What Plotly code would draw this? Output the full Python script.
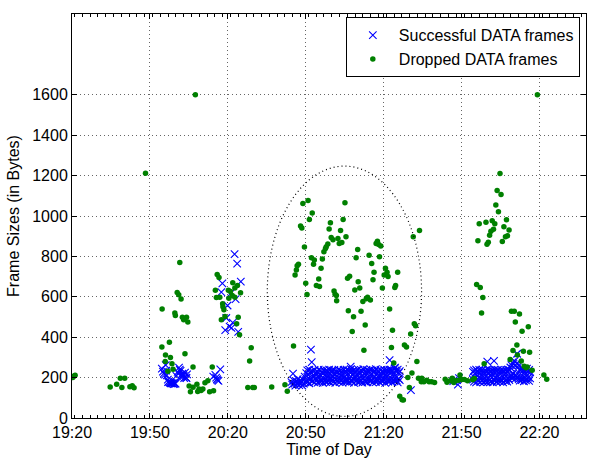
import plotly.graph_objects as go
from datetime import datetime, timedelta

# ---------------- data (minutes after 19:20, bytes) ----------------
# successful frames: early clusters
succ_min = [34.6, 35.0, 35.4, 35.8, 36.1, 36.5, 36.9, 37.2, 37.6, 37.9, 38.3, 38.7, 39.1, 39.5,
            39.9, 40.2, 40.7, 41.2, 41.5, 41.8, 42.0, 42.5, 42.8, 43.0, 43.5, 43.9, 44.3, 44.1,
            36.3, 37.0, 38.0, 39.3, 41.0, 42.2, 43.2,
            54.4, 55.2, 55.8, 56.4, 57.1, 55.5, 56.0,
            57.5, 57.9, 59.0, 59.4, 59.9, 60.7, 60.9, 61.4, 61.9, 62.6, 63.0, 63.6, 64.0, 65.0,
            84.5, 84.8, 85.1, 85.4, 85.7, 86.0, 86.3, 86.6, 86.9, 87.2, 87.5, 87.8, 88.1, 88.4,
            88.7, 89.0, 89.3, 89.6, 89.9, 92.0, 92.3, 107.3, 122.3, 124.4, 130.5,
            146.8, 148.3, 149.0, 148.6, 159.9, 171.4, 162.5]
succ_bytes = [244, 230, 221, 215, 262, 211, 190, 180, 176, 174, 172, 171, 168, 169,
              170, 208, 228, 249, 240, 233, 205, 220, 212, 208, 225, 200, 216, 197,
              235, 178, 172, 175, 222, 215, 198,
              205, 213, 192, 184, 241, 200, 188,
              623, 667, 435, 495, 557, 452, 615, 446, 472, 811, 588, 764, 426, 675,
              178, 165, 220, 185, 170, 160, 182, 168, 192, 175, 163, 186, 172, 180,
              160, 190, 170, 205, 176, 338, 277, 254, 287, 249, 138,
              183, 187, 197, 165, 279, 318, 283]

# successful frames: dense band inside the ellipse (two layers per time)
band_min = [90.2, 90.6, 91.0, 91.4, 91.8, 92.6, 93.0, 93.4, 93.8, 94.2, 94.6, 95.0, 95.4, 95.8,
            96.2, 96.6, 97.0, 97.4, 97.8, 98.2, 98.6, 99.0, 99.4, 99.8, 100.2, 100.6, 101.0,
            101.4, 101.8, 102.2, 102.6, 103.0, 103.4, 103.8, 104.2, 104.6, 105.0, 105.4, 105.8,
            106.2, 106.6, 107.0, 107.4, 107.8, 108.2, 108.6, 109.0, 109.4, 109.8, 110.2, 110.6,
            111.0, 111.4, 111.8, 112.2, 112.6, 113.0, 113.4, 113.8, 114.2, 114.6, 115.0, 115.4,
            115.8, 116.2, 116.6, 117.0, 117.4, 117.8, 118.2, 118.6, 119.0, 119.4, 119.8, 120.2,
            120.6, 121.0, 121.4, 121.8, 122.2, 122.6, 123.0, 123.4, 123.8, 124.2, 124.6, 125.0,
            125.4, 125.8, 126.2]
band_hi = [222, 236, 215, 240, 228, 232, 212, 238, 225, 218, 230, 240, 214, 235, 226, 220, 238,
           230, 216, 234, 228, 240, 218, 232, 236, 222, 238, 214, 230, 226, 240, 220, 235, 228,
           216, 238, 224, 232, 240, 218, 236, 226, 242, 230, 218, 238, 225, 234, 215, 240, 228,
           220, 236, 230, 242, 218, 226, 238, 222, 234, 230, 240, 218, 236, 226, 232, 242, 220,
           235, 228, 216, 238, 230, 224, 240, 232, 218, 236, 228, 240, 226, 238, 232, 220, 245,
           236, 228, 240, 224, 232]
band_lo = [185, 178, 196, 172, 190, 182, 200, 176, 194, 186, 175, 198, 180, 192, 184, 174, 196,
           188, 178, 200, 182, 194, 176, 198, 186, 180, 196, 174, 190, 184, 200, 178, 192, 186,
           175, 198, 182, 194, 180, 190, 176, 198, 186, 180, 194, 174, 200, 184, 190, 178, 196,
           182, 188, 175, 198, 186, 180, 194, 176, 190, 196, 182, 190, 176, 200, 186, 178, 194,
           184, 198, 176, 190, 182, 196, 186, 174, 200, 188, 180, 192, 184, 196, 178, 190, 182,
           198, 186, 176, 194, 188]

# successful frames: dense band after 21:50 (two layers per time)
late_min = [154.4, 154.8, 155.2, 155.6, 156.0, 156.4, 156.8, 157.2, 157.6, 158.0, 158.4, 158.8,
            159.2, 159.6, 160.0, 160.4, 160.8, 161.2, 161.6, 162.0, 162.4, 162.8, 163.2, 163.6,
            164.0, 164.4, 164.8, 165.2, 165.6, 166.0, 166.4, 166.8, 167.2, 167.6, 168.0, 168.4,
            168.8, 169.2, 169.6, 170.0, 170.4, 170.8, 171.2, 171.6, 172.0, 172.4, 172.8, 173.2,
            173.6, 174.0, 174.4, 174.8, 175.2, 175.6, 176.0, 176.4]
late_hi = [228, 236, 220, 240, 232, 226, 238, 222, 234, 240, 228, 218, 236, 230, 242, 224, 238,
           232, 220, 236, 228, 240, 226, 234, 238, 222, 230, 240, 226, 236, 232, 220, 238, 228,
           240, 236, 250, 262, 275, 268, 282, 258, 270, 248, 262, 240, 236, 245, 232, 240, 228,
           236, 244, 230, 238, 226]
late_lo = [190, 180, 198, 176, 192, 184, 200, 178, 194, 186, 176, 198, 182, 190, 178, 196, 186,
           180, 200, 176, 192, 184, 198, 178, 188, 196, 180, 192, 186, 176, 198, 184, 190, 180,
           196, 188, 202, 212, 198, 220, 208, 195, 210, 200, 192, 185, 200, 188, 196, 182, 198,
           186, 192, 200, 184, 196]

drop_min = [0.3, 0.8, 1.2, 14.7, 17.2, 18.6, 19.2, 20.3, 22.3, 23.2, 23.9, 28.3, 47.5,
            34.6, 34.7, 35.9, 36.0, 36.9, 37.5, 37.9, 38.5, 38.9, 39.6, 39.8, 40.5, 41.1, 41.5,
            42.0, 42.5, 43.0, 43.5, 44.1, 44.6, 46.6,
            45.1, 45.6, 46.6, 48.1, 48.4, 48.9, 49.7, 50.4, 51.2, 52.3, 53.0, 54.0, 54.5,
            55.2, 55.6, 55.9, 56.6, 56.9, 57.5, 58.0, 58.1, 58.5, 58.9, 60.2, 60.4, 61.0, 61.7,
            61.9, 62.7, 62.7, 63.4, 63.7, 64.0, 64.5, 64.9,
            67.7, 68.4, 69.0, 69.6, 70.2, 76.9, 82.0, 82.9,
            88.9, 90.9, 105.1, 92.5, 91.4, 88.0, 88.5, 99.5, 99.0, 104.4, 103.4, 105.5, 102.4,
            99.8, 100.5, 98.5, 97.9, 97.6, 97.0, 102.9, 103.9, 89.5, 92.2, 93.3, 93.0, 96.4,
            95.9, 87.2, 86.7, 86.4, 85.9, 95.0, 90.0, 94.1, 95.3, 110.0, 109.4, 106.9, 106.1,
            110.2, 110.8, 108.9, 114.4, 115.4, 116.3, 115.9, 117.6, 117.1, 118.9, 118.1, 118.4,
            120.7, 121.3, 120.2, 121.7, 125.4, 119.5, 124.6, 124.3, 133.8, 131.4, 90.5, 101.3,
            101.8, 113.8, 100.9, 101.9, 112.0, 113.3, 114.9, 106.4, 111.3, 108.4, 112.9, 107.9,
            122.3, 123.4, 85.3, 112.4, 123.0, 123.9, 128.0, 128.8, 130.4, 131.8, 132.3, 132.8,
            130.9, 129.3, 129.9, 126.2, 127.1, 127.6,
            133.4, 134.5, 134.7, 135.5, 136.6, 137.5, 138.5, 139.6,
            143.7, 144.4, 145.6, 146.4, 147.0, 147.7, 148.8, 149.4, 150.0, 151.1, 152.3, 154.3,
            154.9, 158.7,
            164.8, 163.7, 165.2, 163.2, 164.2, 167.3, 156.8, 159.4, 161.8, 162.8, 166.3, 168.3,
            162.3, 161.3, 160.8, 166.9, 167.7, 165.7, 156.3, 160.3, 159.8, 155.8, 157.2, 158.2,
            157.7,
            169.2, 170.3, 172.3, 170.7, 175.7, 173.3, 171.3, 169.8, 173.8, 176.2, 171.5, 168.7,
            173.0, 174.1, 174.8, 175.3, 177.2, 181.7, 182.8, 179.2]
drop_bytes = [200, 208, 212, 154, 167, 197, 151, 197, 155, 160, 150, 1212, 1600,
              352, 539, 280, 312, 231, 375, 300, 269, 241, 520, 508, 621, 610, 770,
              589, 499, 487, 318, 499, 475, 253,
              159, 130, 152, 167, 131, 143, 136, 144, 174, 184, 130, 253, 135,
              633, 597, 710, 695, 598, 487, 565, 551, 536, 503, 633, 593, 626, 607,
              669, 643, 598, 466, 656, 499, 412, 620,
              151, 282, 348, 151, 151, 154, 164, 133,
              1062, 1077, 1065, 1015, 983, 951, 941, 966, 936, 983, 928, 897, 888,
              893, 883, 862, 848, 839, 823, 864, 869, 846, 793, 782, 761, 787,
              741, 761, 754, 733, 708, 688, 667, 656, 651, 834, 793, 702, 692,
              675, 643, 634, 806, 765, 721, 685, 875, 864, 852, 859, 798,
              741, 721, 708, 700, 721, 643, 656, 646, 928, 897, 611, 613,
              607, 598, 629, 580, 577, 590, 584, 531, 529, 501, 461, 428,
              539, 435, 357, 336, 349, 272, 361, 351, 416, 466, 457, 280,
              223, 200, 151, 108, 90, 89,
              197, 180, 197, 180, 187, 179, 179, 176,
              192, 177, 184, 197, 176, 184, 187, 213, 190, 190, 184, 189,
              195, 269,
              1211, 1126, 1106, 1054, 1021, 982, 962, 969, 977, 962, 947, 931,
              934, 924, 905, 897, 902, 874, 877, 870, 860, 661, 646, 597,
              520,
              528, 528, 515, 475, 452, 430, 361, 334, 331, 326, 312, 289,
              282, 256, 249, 253, 236, 213, 192, 1600]

x_ticks = ["19:20", "19:50", "20:20", "20:50", "21:20", "21:50", "22:20"]
y_ticks = [0, 200, 400, 600, 800, 1000, 1200, 1400, 1600]
ellipse_min = [75.2, 134.6]
ellipse_bytes = [8, 1247]

# ---------------- build ----------------
base = datetime(2000, 1, 1, 19, 20)


def to_time(m):
    return base + timedelta(minutes=m)


def hm(s):
    h, m = s.split(":")
    return datetime(2000, 1, 1, int(h), int(m))


succ_all_min = succ_min + band_min + band_min + late_min + late_min
succ_all_bytes = succ_bytes + band_hi + band_lo + late_hi + late_lo

FONT = "Liberation Sans, Arial, Helvetica, sans-serif"
GRID = "rgba(0,0,0,0.6)"

fig = go.Figure()
fig.add_trace(go.Scatter(
    x=[to_time(m) for m in succ_all_min], y=succ_all_bytes, mode="markers",
    name="Successful DATA frames",
    marker=dict(symbol="x-thin", size=7.5, color="#0000ff",
                line=dict(color="#0000ff", width=1.1)),
))
fig.add_trace(go.Scatter(
    x=[to_time(m) for m in drop_min], y=drop_bytes, mode="markers",
    name="Dropped DATA frames",
    marker=dict(symbol="circle", size=5.5, color="#008000", line=dict(width=0)),
))

fig.add_shape(type="circle", xref="x", yref="y",
              x0=to_time(ellipse_min[0]), x1=to_time(ellipse_min[1]),
              y0=ellipse_bytes[0], y1=ellipse_bytes[1],
              line=dict(color="black", width=1.2, dash="1px,3px"))

fig.update_layout(
    width=592, height=459,
    margin=dict(l=72, r=5, t=14, b=38),
    paper_bgcolor="white", plot_bgcolor="white",
    font=dict(family=FONT, size=16, color="black"),
    showlegend=True,
    legend=dict(x=0.988, xanchor="right", y=0.992, yanchor="top",
                bgcolor="white", bordercolor="black", borderwidth=1,
                font=dict(size=16), itemwidth=42, tracegroupgap=0),
)
fig.update_xaxes(
    type="date",
    range=[hm("19:20"), datetime(2000, 1, 1, 22, 37, 55)],
    tickvals=[hm(s) for s in x_ticks], ticktext=x_ticks,
    ticks="inside", ticklen=5, tickcolor="black", tickwidth=1,
    showline=True, linecolor="black", linewidth=1, mirror="ticks",
    showgrid=True, gridcolor=GRID, griddash="1px,3px", gridwidth=1,
    zeroline=False,
    minor=dict(dtick=180000, ticks="inside", ticklen=3, tickcolor="black",
               showgrid=False),
    title=dict(text="Time of Day", standoff=2, font=dict(size=16)),
    tickfont=dict(size=16),
)
fig.update_yaxes(
    range=[0, 2000],
    tickvals=y_ticks,
    ticks="inside", ticklen=5, tickcolor="black", tickwidth=1,
    showline=True, linecolor="black", linewidth=1, mirror="ticks",
    showgrid=True, gridcolor=GRID, griddash="1px,3px", gridwidth=1,
    zeroline=False,
    title=dict(text="Frame Sizes (in Bytes)", standoff=8, font=dict(size=16)),
    tickfont=dict(size=16),
)

fig.write_html("out.html")
